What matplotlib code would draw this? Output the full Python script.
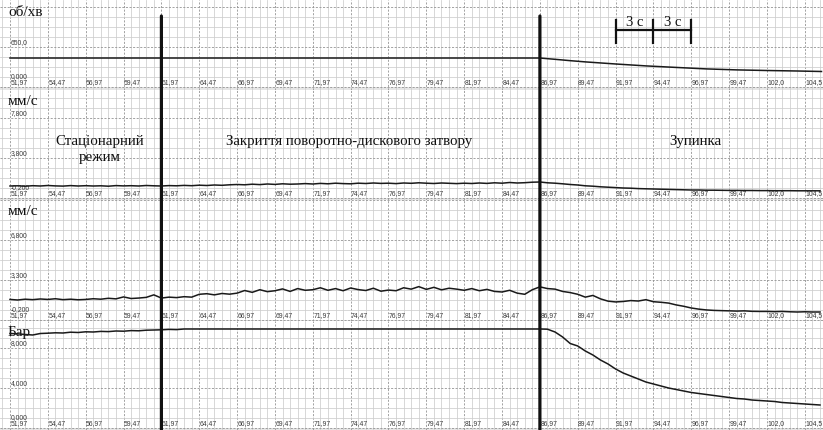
import numpy as np
import matplotlib
matplotlib.use("Agg")
import matplotlib.pyplot as plt
from matplotlib.patches import ConnectionPatch
from matplotlib.ticker import FixedLocator

# ---------------- data ----------------
time = np.round(51.97 + 0.5 * np.arange(108), 2)   # 51.97 ... 105.47 s

x_tick_values = [51.97, 54.47, 56.97, 59.47, 61.97, 64.47, 66.97, 69.47, 71.97, 74.47, 76.97,
                 79.47, 81.97, 84.47, 86.97, 89.47, 91.97, 94.47, 96.97, 99.47, 101.97, 104.47]
x_tick_labels = ["51,97", "54,47", "56,97", "59,47", "61,97", "64,47", "66,97", "69,47", "71,97",
                 "74,47", "76,97", "79,47", "81,97", "84,47", "86,97", "89,47", "91,97", "94,47",
                 "96,97", "99,47", "102,0", "104,5"]

# panel 1: rotation speed, rpm
rpm_time = [51.97, 86.97, 87.97, 88.97, 89.97, 91.97, 93.97, 95.97, 97.97, 99.97, 101.97, 103.97, 105.57]
rpm_values = [471, 471, 450, 428, 408, 374, 343, 318, 294, 278, 268, 260, 252]

# panel 2: vibration velocity 1, mm/s
vel1_values = [1.00, 1.02, 0.98, 1.03, 1.00, 1.05, 1.01, 0.99, 1.04, 1.00,
               1.03, 1.00, 1.02, 0.98, 1.04, 1.01, 1.03, 1.00, 1.05, 1.02,
               1.00, 1.04, 1.02, 1.06, 1.03, 1.08, 1.05, 1.10, 1.07, 1.12,
               1.15, 1.12, 1.18, 1.14, 1.20, 1.16, 1.22, 1.18, 1.20, 1.24,
               1.20, 1.26, 1.22, 1.28, 1.24, 1.22, 1.28, 1.25, 1.30, 1.26,
               1.28, 1.24, 1.30, 1.27, 1.32, 1.28, 1.25, 1.30, 1.27, 1.24,
               1.28, 1.25, 1.30, 1.26, 1.32, 1.28, 1.35, 1.30, 1.33, 1.38,
               1.40,
               1.32, 1.28, 1.22, 1.15, 1.10, 1.02, 0.98, 0.92, 0.88,
               0.84, 0.80, 0.78, 0.74, 0.72, 0.70, 0.68, 0.66, 0.64, 0.62,
               0.60, 0.60, 0.58, 0.58, 0.57, 0.56, 0.56, 0.55, 0.55, 0.54,
               0.54, 0.53, 0.53, 0.53, 0.52, 0.52, 0.52, 0.52]

# panel 3: vibration velocity 2, mm/s
vel2_values = [1.60, 1.55, 1.62, 1.58, 1.64, 1.60, 1.66, 1.58, 1.62, 1.57,
               1.60, 1.66, 1.62, 1.70, 1.65, 1.82, 1.68, 1.72, 1.78, 2.00,
               1.72, 1.80, 1.76, 1.84, 1.80, 2.05, 2.10, 2.00, 2.12, 2.06,
               2.15, 2.38, 2.22, 2.45, 2.28, 2.36, 2.52, 2.30, 2.55, 2.40,
               2.45, 2.62, 2.40, 2.55, 2.36, 2.60, 2.46, 2.38, 2.58, 2.32,
               2.42, 2.36, 2.62, 2.50, 2.72, 2.48, 2.66, 2.44, 2.58, 2.50,
               2.40, 2.55, 2.36, 2.48, 2.30, 2.25, 2.40, 2.15, 2.05, 2.45,
               2.70,
               2.55, 2.50, 2.30, 2.20, 2.05, 1.80, 1.95, 1.65, 1.45,
               1.38, 1.42, 1.50, 1.46, 1.58, 1.40, 1.35, 1.28, 1.12, 1.00,
               0.85, 0.75, 0.68, 0.64, 0.62, 0.60, 0.58, 0.60, 0.56, 0.55,
               0.55, 0.53, 0.55, 0.52, 0.50, 0.52, 0.50, 0.50]

# panel 4: pressure, bar
bar_values = [9.45, 9.42, 9.35, 9.30, 9.45, 9.48, 9.52, 9.50, 9.58, 9.55,
              9.62, 9.60, 9.66, 9.64, 9.70, 9.68, 9.74, 9.72, 9.78, 9.80,
              9.82, 9.86, 9.84, 9.90, 9.90, 9.90, 9.90, 9.90, 9.90, 9.90,
              9.90, 9.90, 9.90, 9.90, 9.90, 9.90, 9.90, 9.90, 9.90, 9.90,
              9.90, 9.90, 9.90, 9.90, 9.90, 9.90, 9.90, 9.90, 9.90, 9.90,
              9.90, 9.90, 9.90, 9.90, 9.90, 9.90, 9.90, 9.90, 9.90, 9.90,
              9.90, 9.90, 9.90, 9.90, 9.90, 9.90, 9.90, 9.90, 9.90, 9.90,
              9.90,
              9.88, 9.60, 9.10, 8.45, 8.20, 7.70, 7.30, 6.80, 6.40,
              5.90, 5.50, 5.20, 4.90, 4.60, 4.40, 4.20, 4.00, 3.85, 3.70,
              3.55, 3.45, 3.35, 3.25, 3.15, 3.05, 2.95, 2.90, 2.80, 2.75,
              2.70, 2.65, 2.55, 2.50, 2.45, 2.40, 2.35, 2.30]

event_times = [61.97, 86.97]
scale_bar_times = [91.97, 94.47, 96.97]
scale_bar_labels = ["3 с", "3 с"]

units = ["об/хв", "мм/с", "мм/с", "Бар"]
y_ticks = [[0, 650], [-0.2, 3.8, 7.8], [-0.2, 3.3, 6.8], [0, 4, 8]]
y_tick_labels = [["0,000", "650,0"], ["-0,200", "3,800", "7,800"],
                 ["-0,200", "3,300", "6,800"], ["0,000", "4,000", "8,000"]]

# ---------------- layout ----------------
FIG_W, FIG_H = 823, 430
fig = plt.figure(figsize=(FIG_W / 100, FIG_H / 100), dpi=100)
X_PX0 = 10.0
PX_PER_S = 15.14
xlim = (51.97 - X_PX0 / PX_PER_S, 51.97 + (FIG_W - X_PX0) / PX_PER_S)

# (top px, bottom px, px of lowest tick, px per unit)
panels = [(0, 90, 87, 40 / 650), (90, 200, 198, 10.0), (200, 321, 320, 40 / 3.5), (321, 430, 428, 10.0)]

SERIF = "Liberation Serif"
SANS = "Liberation Sans"
TICK_COLOR = "#3a3a3a"

axes = []
for i, (top, bot, ref_px, ppu) in enumerate(panels):
    ax = fig.add_axes([0, 1 - bot / FIG_H, 1, (bot - top) / FIG_H])
    ref_val = y_ticks[i][0]
    step = y_ticks[i][1] - y_ticks[i][0]
    ymin = ref_val - (bot - ref_px) / ppu
    ymax = ref_val + (ref_px - top) / ppu
    ax.set_xlim(*xlim)
    ax.set_ylim(ymin, ymax)
    for s in ax.spines.values():
        s.set_visible(False)
    ax.xaxis.set_major_locator(FixedLocator(x_tick_values))
    ax.xaxis.set_minor_locator(FixedLocator(51.97 + 0.5 * np.arange(-3, 112)))
    ax.yaxis.set_major_locator(FixedLocator(ref_val + step * np.arange(0, 5)))
    ax.yaxis.set_minor_locator(FixedLocator(ref_val + step / 4 * np.arange(-1, 20)))
    ax.tick_params(which="both", length=0, labelbottom=False, labelleft=False)
    ax.grid(which="minor", color="#cdcdcd", lw=0.55)
    ax.grid(which="major", color="#939393", lw=0.6, ls=(0, (2.5, 1.8)))
    ax.set_axisbelow(True)
    # light band below the lowest grid line
    ax.axhspan(ymin, ref_val, color="#e6e6e6", lw=0, zorder=0.5)
    # x tick labels (inside, above the bottom grid line)
    for xv, xl in zip(x_tick_values, x_tick_labels):
        ax.annotate(xl, xy=(xv, ref_val), xycoords="data", xytext=(0.3, 0.6),
                    textcoords="offset points", ha="left", va="bottom",
                    fontsize=4.9, family=SANS, color=TICK_COLOR, annotation_clip=False)
    # y tick labels
    for k, (yv, yl) in enumerate(zip(y_ticks[i], y_tick_labels[i])):
        dy = 5.2 if k == 0 else 0.8
        ax.annotate(yl, xy=(0, yv), xycoords=ax.get_yaxis_transform(), xytext=(7.6, dy),
                    textcoords="offset points", ha="left", va="bottom",
                    fontsize=4.9, family=SANS, color=TICK_COLOR, annotation_clip=False)
    # unit label
    ax.text(8.0 / FIG_W, 1 - 5 / (bot - top) if i else 1 - 6 / (bot - top), units[i],
            transform=ax.transAxes, ha="left", va="top", fontsize=11, family=SERIF, color="#111111")
    axes.append(ax)

ax1, ax2, ax3, ax4 = axes

ax1.plot(rpm_time, rpm_values, color="#1a1a1a", lw=1.1, zorder=3)
ax2.plot(time, vel1_values, color="#1a1a1a", lw=1.1, zorder=3)
ax3.plot(time, vel2_values, color="#1a1a1a", lw=1.1, zorder=3)
ax4.plot(time, bar_values, color="#1a1a1a", lw=1.1, zorder=3)

# event markers spanning all panels
top_marker_val = (87 - 16) * 650 / 40
for et in event_times:
    con = ConnectionPatch(xyA=(et, top_marker_val), coordsA=ax1.transData,
                          xyB=(et, ax4.get_ylim()[0]), coordsB=ax4.transData,
                          color="#111111", lw=2.3, zorder=10)
    fig.add_artist(con)

# scale bar "3 с | 3 с"
bar_y = (87 - 30) * 650 / 40
tick_lo = (87 - 43) * 650 / 40
tick_hi = (87 - 20) * 650 / 40
ax1.plot([scale_bar_times[0], scale_bar_times[-1]], [bar_y, bar_y], color="#111111", lw=1.6, zorder=4)
for st in scale_bar_times:
    ax1.plot([st, st], [tick_lo, tick_hi], color="#111111", lw=1.6, zorder=4)
for a, b, lab in zip(scale_bar_times[:-1], scale_bar_times[1:], scale_bar_labels):
    ax1.text((a + b) / 2, (87 - 22) * 650 / 40, lab, ha="center", va="center",
             fontsize=10.5, family=SERIF, color="#111111", zorder=5)

# phase labels
ax2.text(57.88, 4.6, "Стаціонарний\nрежим", ha="center", va="center", fontsize=10.8,
         family=SERIF, linespacing=1.3, color="#111111")
ax2.text(74.37, 5.4, "Закриття поворотно-дискового затвору", ha="center", va="center",
         fontsize=10.7, family=SERIF, color="#111111")
ax2.text(97.26, 5.4, "Зупинка", ha="center", va="center", fontsize=10.8,
         family=SERIF, color="#111111")

fig.savefig("out.png", dpi=100, facecolor="white")
